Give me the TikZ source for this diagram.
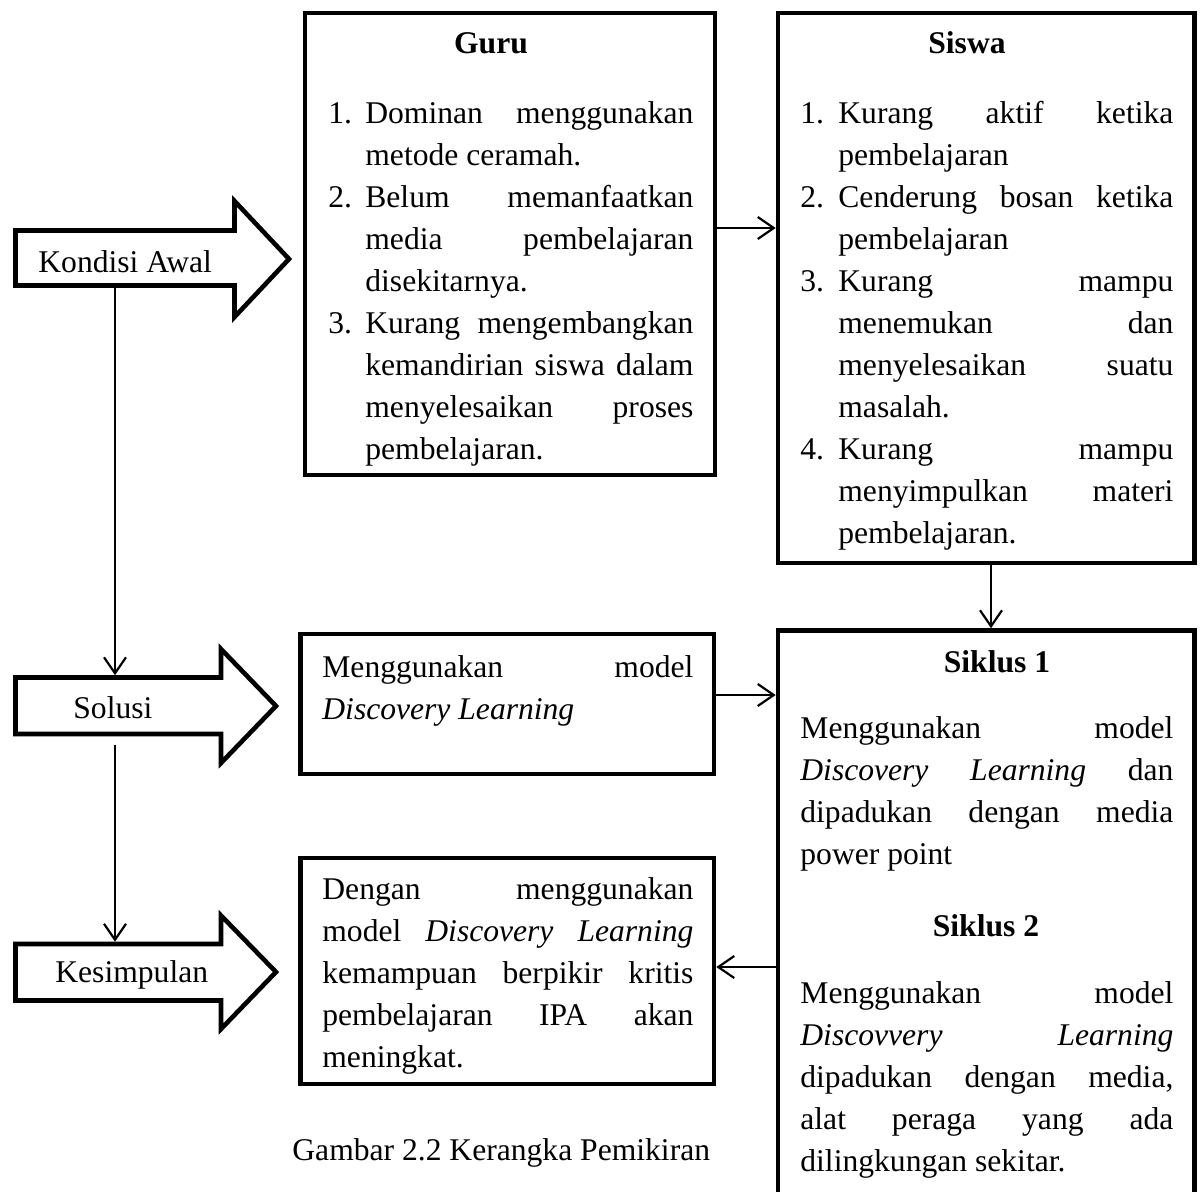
\documentclass[tikz,border=0pt]{standalone}
\usepackage{fontspec}
\setmainfont{Liberation Serif}
\usetikzlibrary{arrows.meta}
\tolerance=10000 \hbadness=10000 \hyphenpenalty=10000 \exhyphenpenalty=10000
\newcommand\mytext{\fontsize{15.8pt}{21pt}\selectfont}
\newlength\lbw
\newcommand\itm[1]{\noindent\hangindent=\lbw\hangafter=1\makebox[\lbw][l]{#1}\ignorespaces}
\tikzset{
  box/.style={draw, line width=2.3pt, inner sep=0pt},
  bodyn/.style={inner sep=0pt, outer sep=1.15pt},
  blk/.style={draw, line width=2.3pt, line join=miter, fill=white},
  txt/.style={inner sep=0pt, anchor=base west, align=justify, font=\mytext},
  ttl/.style={inner sep=0pt, anchor=base, font=\mytext\bfseries},
  lbl/.style={inner sep=0pt, anchor=base west, font=\mytext},
  conn/.style={line width=1.1pt, -{Straight Barb[length=8pt,width=11pt]}}
}
\begin{document}
\begin{tikzpicture}[x=0.5pt,y=-0.5pt]
\path[use as bounding box, fill=white] (0,0) rectangle (1203,1191);

% ---------- block arrows ----------
\draw[blk] (15.5,230.5) -- (234.5,230.5) -- (234.5,201) -- (289,259) -- (234.5,317) -- (234.5,285.5) -- (15.5,285.5) -- cycle;
\draw[blk] (15.5,677.5) -- (221,677.5) -- (221,649) -- (276,706) -- (221,763) -- (221,734) -- (15.5,734) -- cycle;
\draw[blk] (15.5,944) -- (221,944) -- (221,915.5) -- (276,972) -- (221,1029) -- (221,1000.5) -- (15.5,1000.5) -- cycle;

\node[bodyn, minimum width=109.5pt, minimum height=27.5pt] (kondisi) at (125,258) {};
\node[bodyn, minimum width=102.75pt, minimum height=28.25pt] (solusi) at (118.25,705.75) {};
\node[bodyn, minimum width=102.75pt, minimum height=28.25pt] (kesimpulan) at (118.25,972.25) {};

\node[lbl] (tkondisi) at (38,272) {Kondisi Awal};
\node[lbl] (tsolusi) at (73,718) {Solusi};
\node[lbl] (tkesimpulan) at (55,982) {Kesimpulan};

% ---------- boxes ----------
\node[box, minimum width=205pt, minimum height=231pt] (guru) at (510,244) {};
\node[box, minimum width=208.25pt, minimum height=275pt] (siswa) at (986.25,288) {};
\node[box, minimum width=206.75pt, minimum height=70pt] (model) at (507.25,704) {};
\node[box, minimum width=208.25pt, minimum height=284.75pt] (siklus) at (986.25,915.25) {};
\node[box, minimum width=206.75pt, minimum height=113pt] (dengan) at (507.25,971) {};

% ---------- texts ----------
\node[ttl] (tguru) at (491,53) {Guru};
\node[txt, text width=182.5pt] (lguru) at (328,123) {\setlength\lbw{18.5pt}%
\itm{1.} Dominan menggunakan\linebreak metode ceramah.\par
\itm{2.} Belum memanfaatkan\linebreak media pembelajaran\linebreak disekitarnya.\par
\itm{3.} Kurang mengembangkan\linebreak kemandirian siswa dalam\linebreak menyelesaikan proses\linebreak pembelajaran.\par};

\node[ttl] (tsiswa) at (967,53) {Siswa};
\node[txt, text width=186.5pt] (lsiswa) at (800,123) {\setlength\lbw{19pt}%
\itm{1.} Kurang aktif ketika\linebreak pembelajaran\par
\itm{2.} Cenderung bosan ketika\linebreak pembelajaran\par
\itm{3.} Kurang mampu\linebreak menemukan dan\linebreak menyelesaikan suatu\linebreak masalah.\par
\itm{4.} Kurang mampu\linebreak menyimpulkan materi\linebreak pembelajaran.\par};

\node[txt, text width=185.5pt] (tmodel) at (322,677) {Menggunakan model\linebreak \textit{Discovery Learning}};

\node[ttl] (ts1) at (997,672) {Siklus 1};
\node[txt, text width=186.5pt] (ps1) at (800,738) {Menggunakan model\linebreak \textit{Discovery Learning} dan\linebreak dipadukan dengan media\linebreak power point};
\node[ttl] (ts2) at (986,936) {Siklus 2};
\node[txt, text width=186.5pt] (ps2) at (800,1003) {Menggunakan model\linebreak \textit{Discovvery Learning}\linebreak dipadukan dengan media,\linebreak alat peraga yang ada\linebreak dilingkungan sekitar.};

\node[txt, text width=185.5pt] (tdengan) at (322,899) {Dengan menggunakan\linebreak model \textit{Discovery Learning}\linebreak kemampuan berpikir kritis\linebreak pembelajaran IPA akan\linebreak meningkat.};

\node[lbl] (caption) at (292,1160) {Gambar 2.2 Kerangka Pemikiran};

% ---------- connectors ----------
\coordinate (xv) at (115,0);
\coordinate (ygs) at (0,228);
\coordinate (xss) at (991,0);
\coordinate (yms) at (0,695);
\coordinate (ysd) at (0,967);
\draw[conn] (kondisi.south -| xv) -- (solusi.north -| xv);
\draw[conn, shorten <=4.5pt] (solusi.south -| xv) -- (kesimpulan.north -| xv);
\draw[conn] (guru.east |- ygs) -- (siswa.west |- ygs);
\draw[conn] (siswa.south -| xss) -- (siklus.north -| xss);
\draw[conn] (model.east |- yms) -- (siklus.west |- yms);
\draw[conn] (siklus.west |- ysd) -- (dengan.east |- ysd);
\end{tikzpicture}
\end{document}
